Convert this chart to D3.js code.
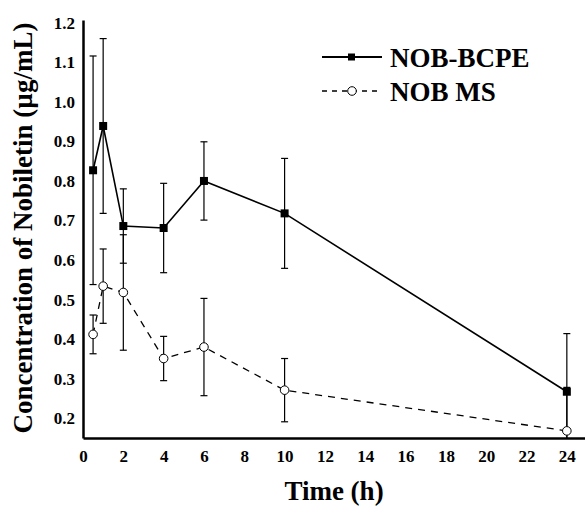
<!DOCTYPE html>
<html>
<head>
<meta charset="utf-8">
<script src="https://cdn.jsdelivr.net/npm/d3@7"></script>
<style>
	body { margin: 0; background: #fff; }
	svg text { font-family: "Liberation Serif", "Times New Roman", serif; font-weight: bold; fill: #000; }
</style>
</head>
<body>
<div id="chart"></div>
<script>
// data
const times = [0.5, 1, 2, 4, 6, 10, 24];
const bcpeMean = [0.827, 0.939, 0.686, 0.681, 0.800, 0.718, 0.267];
const bcpeSD   = [0.289, 0.221, 0.094, 0.113, 0.099, 0.139, 0.147];
const msMean   = [0.412, 0.534, 0.518, 0.351, 0.380, 0.271, 0.168];
const msSD     = [0.049, 0.094, 0.146, 0.056, 0.123, 0.080, 0.110];
const xTicks = [0, 2, 4, 6, 8, 10, 12, 14, 16, 18, 20, 22, 24];
const yTicks = [0.2, 0.3, 0.4, 0.5, 0.6, 0.7, 0.8, 0.9, 1.0, 1.1, 1.2];
const seriesNames = ["NOB-BCPE", "NOB MS"];

const width = 585, height = 506;
const margin = {left: 83, right: 0, top: 20, bottom: 68};

let svg = d3.select("#chart").append("svg")
	.attr("width", width)
	.attr("height", height);

//scales
const xScale = d3.scaleLinear()
	.domain([0, 25])
	.range([margin.left, 587]);

const yScale = d3.scaleLinear()
	.domain([0.15, 1.207])
	.range([height - margin.bottom, margin.top]);

const y0 = yScale.range()[0];

//axes
let xAxis = svg.append("g")
	.attr("transform", `translate(0,${y0})`)
	.call(d3.axisBottom(xScale).tickValues(xTicks).tickSize(0).tickPadding(9).tickFormat(d3.format("d")));

let yAxis = svg.append("g")
	.attr("transform", `translate(${margin.left},0)`)
	.call(d3.axisLeft(yScale).tickValues(yTicks).tickSize(0).tickPadding(8).tickFormat(d3.format(".1f")));

[xAxis, yAxis].forEach(a => {
	a.select(".domain").attr("stroke", "#000").attr("stroke-width", 2.5);
	a.selectAll("text").style("font-size", "17px");
});
xAxis.selectAll("text").attr("dy", "0.9em");

//axis titles
svg.append("text")
	.attr("x", 334)
	.attr("y", 500)
	.attr("text-anchor", "middle")
	.style("font-size", "27px")
	.text("Time (h)");

svg.append("text")
	.attr("transform", `translate(32,228) rotate(-90)`)
	.attr("text-anchor", "middle")
	.style("font-size", "27px")
	.text("Concentration of Nobiletin (µg/mL)");

const series = [
	{name: seriesNames[0], mean: bcpeMean, sd: bcpeSD, dash: null, marker: "square"},
	{name: seriesNames[1], mean: msMean, sd: msSD, dash: "7,6", marker: "circle"}
];

const clip = v => Math.max(v, yScale.domain()[0]);

const line = d3.line()
	.x(d => xScale(d.t))
	.y(d => yScale(d.v));

series.forEach(s => {
	const pts = times.map((t, i) => ({t: t, v: s.mean[i], sd: s.sd[i]}));
	let g = svg.append("g");

	//error bars
	let eb = g.selectAll(".eb").data(pts).join("g").attr("class", "eb");
	eb.append("line")
		.attr("x1", d => xScale(d.t)).attr("x2", d => xScale(d.t))
		.attr("y1", d => yScale(d.v + d.sd)).attr("y2", d => yScale(clip(d.v - d.sd)))
		.attr("stroke", "#000").attr("stroke-width", 1.2);
	eb.append("line")
		.attr("x1", d => xScale(d.t) - 3.5).attr("x2", d => xScale(d.t) + 3.5)
		.attr("y1", d => yScale(d.v + d.sd)).attr("y2", d => yScale(d.v + d.sd))
		.attr("stroke", "#000").attr("stroke-width", 1.2);
	eb.filter(d => d.v - d.sd > yScale.domain()[0]).append("line")
		.attr("x1", d => xScale(d.t) - 3.5).attr("x2", d => xScale(d.t) + 3.5)
		.attr("y1", d => yScale(d.v - d.sd)).attr("y2", d => yScale(d.v - d.sd))
		.attr("stroke", "#000").attr("stroke-width", 1.2);

	g.append("path")
		.datum(pts)
		.attr("d", line)
		.attr("fill", "none")
		.attr("stroke", "#000")
		.attr("stroke-width", s.dash ? 1.3 : 1.6)
		.attr("stroke-dasharray", s.dash);

	if (s.marker === "square") {
		g.selectAll(".m").data(pts).join("rect")
			.attr("x", d => xScale(d.t) - 4).attr("y", d => yScale(d.v) - 4)
			.attr("width", 8).attr("height", 8)
			.attr("fill", "#000");
	} else {
		g.selectAll(".m").data(pts).join("circle")
			.attr("cx", d => xScale(d.t)).attr("cy", d => yScale(d.v))
			.attr("r", 4.3)
			.attr("fill", "#fff").attr("stroke", "#000").attr("stroke-width", 1);
	}
});

//legend
let legend = svg.append("g");
series.forEach((s, i) => {
	const ly = 57 + i * 34;
	legend.append("line")
		.attr("x1", 322).attr("x2", 382).attr("y1", ly).attr("y2", ly)
		.attr("stroke", "#000").attr("stroke-width", s.dash ? 1.3 : 1.8)
		.attr("stroke-dasharray", s.dash ? "5,5" : null);
	if (s.marker === "square") {
		legend.append("rect").attr("x", 348).attr("y", ly - 3.5).attr("width", 7).attr("height", 7).attr("fill", "#000");
	} else {
		legend.append("circle").attr("cx", 352).attr("cy", ly).attr("r", 4.3)
			.attr("fill", "#fff").attr("stroke", "#000").attr("stroke-width", 1);
	}
	legend.append("text")
		.attr("x", 390).attr("y", ly + 10)
		.style("font-size", "27px")
		.text(s.name);
});
</script>
</body>
</html>
